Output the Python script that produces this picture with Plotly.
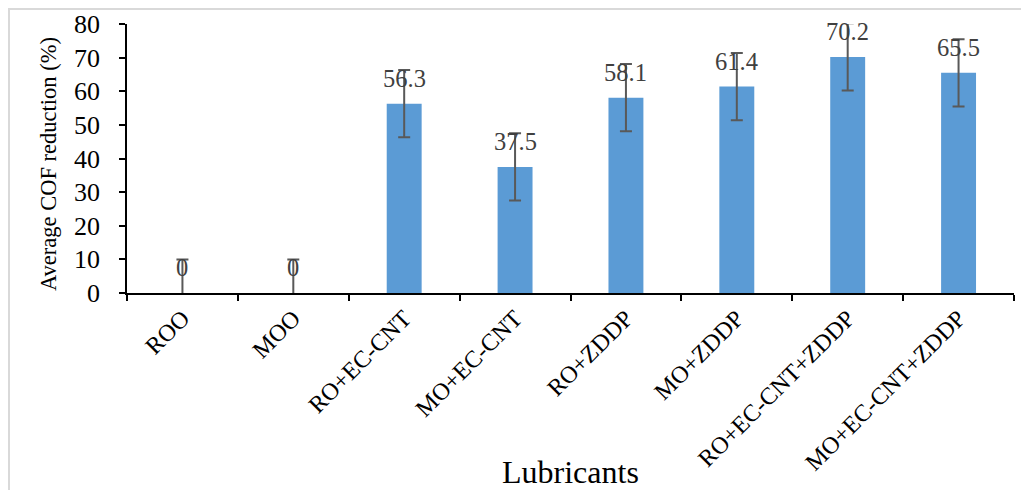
import plotly.graph_objects as go

categories = ["ROO", "MOO", "RO+EC-CNT", "MO+EC-CNT", "RO+ZDDP", "MO+ZDDP",
              "RO+EC-CNT+ZDDP", "MO+EC-CNT+ZDDP"]
values = [0, 0, 56.3, 37.5, 58.1, 61.4, 70.2, 65.5]
errors = [10, 10, 10, 10, 10, 10, 10, 10]
labels = ["0", "0", "56.3", "37.5", "58.1", "61.4", "70.2", "65.5"]
y_ticks = [0, 10, 20, 30, 40, 50, 60, 70, 80]

FONT = "Liberation Serif, Times New Roman, serif"

# page body has an 8px margin, so the figure sits at (8, 8) in the window
W, H = 1021, 482
ML, MR, MT, MB = 119, 15, 16, 197
pw, ph = W - ML - MR, H - MT - MB

def px(x):
    return (x - ML) / pw

def py(y):
    return (H - MB - y) / ph

fig = go.Figure()
fig.add_trace(go.Bar(
    x=categories, y=values,
    width=0.315,
    marker=dict(color="#5B9BD5", line=dict(width=0)),
    error_y=dict(type="data", array=errors, visible=True,
                 color="#595959", thickness=2, width=6),
))

annotations = []
for c, v, t in zip(categories, values, labels):
    annotations.append(dict(x=c, y=v, xref="x", yref="y", text=t,
                            showarrow=False, yanchor="bottom", yshift=10,
                            font=dict(family=FONT, size=24.5, color="#404040")))
annotations.append(dict(x=0.5, y=py(464), xref="paper", yref="paper",
                        text="Lubricants", showarrow=False,
                        xanchor="center", yanchor="middle",
                        font=dict(family=FONT, size=32, color="#000000")))
annotations.append(dict(x=px(40), y=py(156), xref="paper", yref="paper",
                        text="Average COF reduction (%)", showarrow=False,
                        textangle=-90, xanchor="center", yanchor="middle",
                        font=dict(family=FONT, size=22.5, color="#000000")))

shapes = [
    dict(type="line", xref="paper", yref="paper", x0=px(0), x1=px(W + 5),
         y0=py(1), y1=py(1), line=dict(color="#D9D9D9", width=2)),
    dict(type="line", xref="paper", yref="paper", x0=px(1), x1=px(1),
         y0=py(0), y1=py(H + 5), line=dict(color="#D9D9D9", width=2)),
]

fig.update_layout(
    width=W, height=H,
    margin=dict(l=ML, r=MR, t=MT, b=MB, autoexpand=False),
    paper_bgcolor="white", plot_bgcolor="white",
    showlegend=False,
    font=dict(family=FONT, color="#000000"),
    annotations=annotations,
    shapes=shapes,
    xaxis=dict(
        showline=True, linecolor="#000000", linewidth=1.5,
        ticks="outside", ticklen=6, tickcolor="#000000", tickwidth=1.5,
        tickson="boundaries", tickangle=-45,
        tickfont=dict(family=FONT, size=24, color="#000000"),
        showgrid=False, zeroline=False, fixedrange=True,
    ),
    yaxis=dict(
        range=[0, 80], tickvals=y_ticks,
        showline=True, linecolor="#000000", linewidth=1.5,
        ticks="outside", ticklen=6, tickcolor="#000000", tickwidth=1.5,
        ticklabelstandoff=14,
        tickfont=dict(family=FONT, size=26, color="#000000"),
        showgrid=False, zeroline=False, fixedrange=True,
    ),
)

fig.write_html("out.html")
